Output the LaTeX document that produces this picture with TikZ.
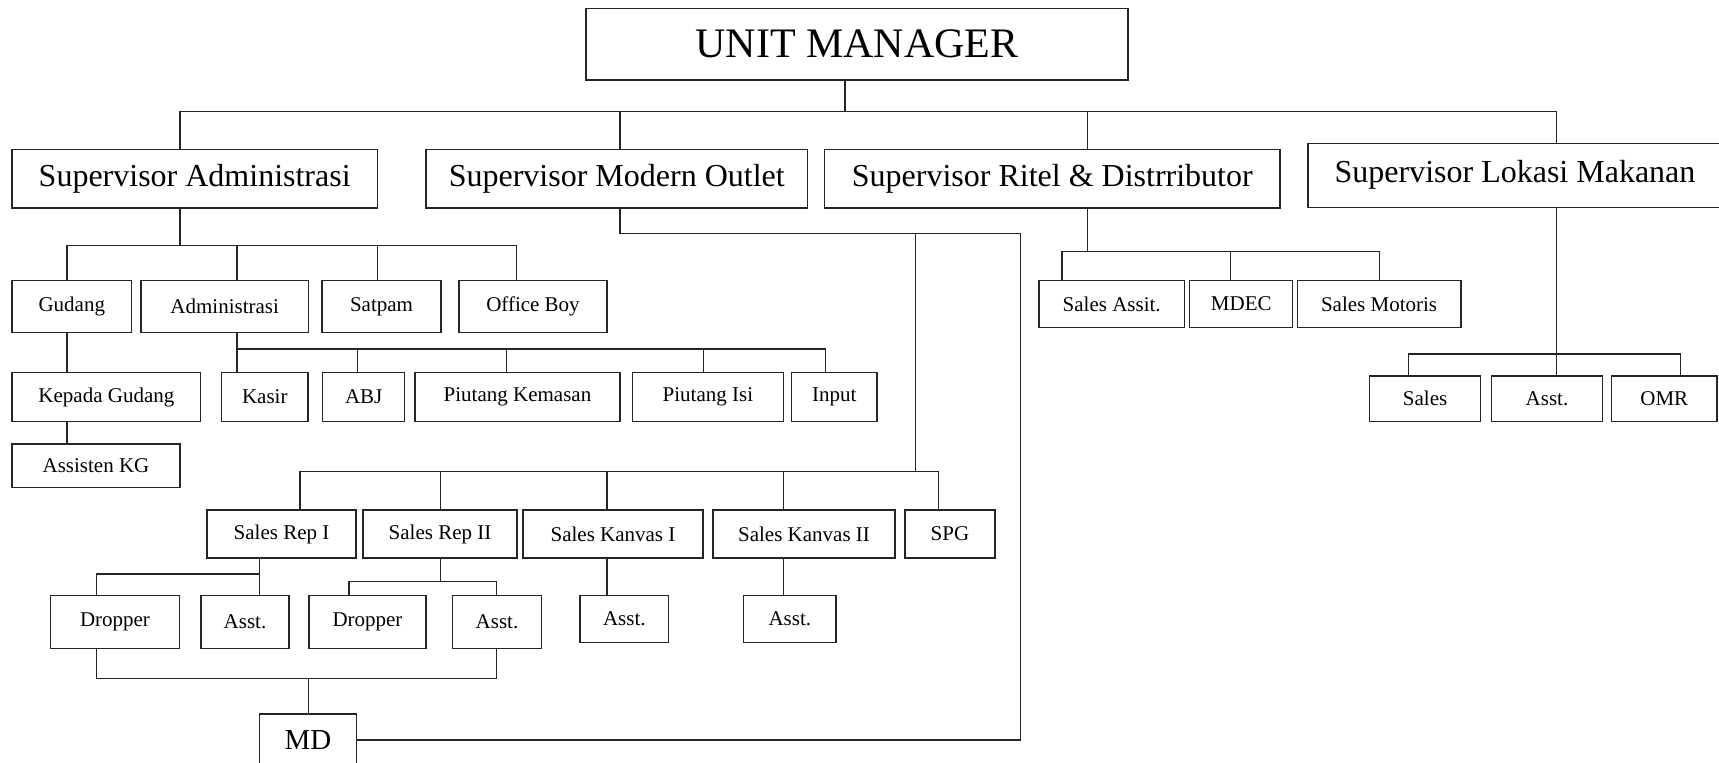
\documentclass[tikz,border=0pt]{standalone}
\usepackage{fontspec}
\setmainfont{Liberation Serif}
\usepackage{tikz}

\begin{document}
\begin{tikzpicture}[x=1pt, y=-1pt, line width=1.1pt, draw=black!85,
	box/.style = {draw, rectangle, inner sep=0pt, line width=1.2pt},
	big/.style = {font=\fontsize{42}{46}\selectfont},
	sup/.style = {font=\fontsize{32}{36}\selectfont},
	md/.style = {font=\fontsize{29}{32}\selectfont},
	sm/.style = {font=\fontsize{21}{24}\selectfont}]
	\useasboundingbox (0,0) rectangle (1719,763);
	
	\node[box, big, minimum width=542, minimum height=71.7] (um) at (857,44.2) {UNIT MANAGER};
	
	\node[box, sup, minimum width=365.4, minimum height=58.3] (sadm) at (194.7,178.8) {Supervisor Administrasi};
	\node[box, sup, minimum width=381.5, minimum height=58.3] (smo) at (616.8,178.8) {Supervisor Modern Outlet};
	\node[box, sup, minimum width=455.5, minimum height=58.3] (srd) at (1052.3,178.8) {Supervisor Ritel \& Distrributor};
	\node[box, sup, minimum width=414, minimum height=64] (slm) at (1515,175.3) {Supervisor Lokasi Makanan};
	
	\node[box, sm, minimum width=119.6, minimum height=52] (gud) at (71.8,306.7) {Gudang};
	\node[box, sm, minimum width=167.3, minimum height=52] (adm) at (224.7,306.7) {Administrasi};
	\node[box, sm, minimum width=119, minimum height=52] (sat) at (381.5,306.7) {Satpam};
	\node[box, sm, minimum width=148, minimum height=52] (ob) at (533,306.7) {Office Boy};
	
	\node[box, sm, minimum width=188.8, minimum height=49.4] (kg) at (106.4,397) {Kepada Gudang};
	\node[box, sm, minimum width=168, minimum height=43.3] (akg) at (96,465.7) {Assisten KG};
	\node[box, sm, minimum width=86.4, minimum height=49.4] (kas) at (264.8,397) {Kasir};
	\node[box, sm, minimum width=82.3, minimum height=49.4] (abj) at (363.7,397) {ABJ};
	\node[box, sm, minimum width=205, minimum height=49.4] (pk) at (517.5,397) {Piutang Kemasan};
	\node[box, sm, minimum width=150.8, minimum height=49.4] (pi) at (707.9,397) {Piutang Isi};
	\node[box, sm, minimum width=85.5, minimum height=49.4] (inp) at (834.3,397) {Input};
	
	\node[box, sm, minimum width=145.3, minimum height=46.6] (sass) at (1111.7,304) {Sales Assit.};
	\node[box, sm, minimum width=103, minimum height=46.6] (mdec) at (1241.3,304) {MDEC};
	\node[box, sm, minimum width=163.8, minimum height=46.6] (smot) at (1379.1,304) {Sales Motoris};
	
	\node[box, sm, minimum width=111.2, minimum height=45.5] (lsal) at (1425.1,398.7) {Sales};
	\node[box, sm, minimum width=110.7, minimum height=45.5] (lass) at (1547,398.7) {Asst.};
	\node[box, sm, minimum width=105.4, minimum height=45.5] (omr) at (1664.3,398.7) {OMR};
	
	\node[box, sm, minimum width=149, minimum height=48] (sr1) at (281.5,534) {Sales Rep I};
	\node[box, sm, minimum width=154, minimum height=48] (sr2) at (440,534) {Sales Rep II};
	\node[box, sm, minimum width=180, minimum height=48] (sk1) at (613,534) {Sales Kanvas I};
	\node[box, sm, minimum width=182, minimum height=48] (sk2) at (804,534) {Sales Kanvas II};
	\node[box, sm, minimum width=90, minimum height=48] (spg) at (950,534) {SPG};
	
	\node[box, sm, minimum width=129.1, minimum height=52.6] (dr1) at (115,622) {Dropper};
	\node[box, sm, minimum width=88, minimum height=52.6] (as1) at (245,622) {Asst.};
	\node[box, sm, minimum width=117, minimum height=52.6] (dr2) at (367.5,622) {Dropper};
	\node[box, sm, minimum width=89.1, minimum height=52.6] (as2) at (497,622) {Asst.};
	\node[box, sm, minimum width=88.5, minimum height=47] (as3) at (624.3,619.2) {Asst.};
	\node[box, sm, minimum width=92.4, minimum height=47] (as4) at (789.8,619.2) {Asst.};
	
	\node[box, md, minimum width=96.8, minimum height=52] (md) at (308,740) {MD};
	
	% top level
	\coordinate (jum) at (845,111.7);
	\coordinate (jsa) at (180,111.7);
	\coordinate (jmo) at (620,111.7);
	\coordinate (jrd) at (1087.5,111.7);
	\coordinate (jlm) at (1556.6,111.7);
	\draw (jum |- um.south) -- (jum);
	\draw (jsa |- sadm.north) -- (jsa) -- (jlm) -- (jlm |- slm.north);
	\draw (jmo) -- (jmo |- smo.north);
	\draw (jrd) -- (jrd |- srd.north);
	
	% administrasi
	\coordinate (ja) at (180,245.7);
	\coordinate (jgu) at (67,245.7);
	\coordinate (jad) at (237,245.7);
	\coordinate (jsp) at (377.4,245.7);
	\coordinate (job) at (516.7,245.7);
	\draw (ja |- sadm.south) -- (ja);
	\draw (jgu |- gud.north) -- (jgu) -- (job) -- (job |- ob.north);
	\draw (jad) -- (jad |- adm.north);
	\draw (jsp) -- (jsp |- sat.north);
	\draw (jgu |- gud.south) -- (jgu |- kg.north);
	\draw (jgu |- kg.south) -- (jgu |- akg.north);
	
	\coordinate (jka) at (237,349);
	\coordinate (jab) at (357.7,349);
	\coordinate (jpk) at (506.9,349);
	\coordinate (jpi) at (703.8,349);
	\coordinate (jin) at (825.6,349);
	\draw (jka |- adm.south) -- (jka |- kas.north);
	\draw (jka) -- (jin) -- (jin |- inp.north);
	\draw (jab) -- (jab |- abj.north);
	\draw (jpk) -- (jpk |- pk.north);
	\draw (jpi) -- (jpi |- pi.north);
	
	% modern outlet
	\coordinate (mo1) at (620,233.3);
	\coordinate (mo2) at (1020.7,233.3);
	\coordinate (mo3) at (915.5,233.3);
	\draw (jmo |- smo.south) -- (mo1) -- (mo2) -- (md.east -| mo2) -- (md.east);
	
	\coordinate (js1) at (300,471.7);
	\coordinate (js2) at (440.5,471.7);
	\coordinate (js3) at (607,471.7);
	\coordinate (js4) at (783.6,471.7);
	\coordinate (js5) at (938.6,471.7);
	\draw (mo3) -- (mo3 |- js1);
	\draw (js1 |- sr1.north) -- (js1) -- (js5) -- (js5 |- spg.north);
	\draw (js2) -- (js2 |- sr2.north);
	\draw (js3) -- (js3 |- sk1.north);
	\draw (js4) -- (js4 |- sk2.north);
	
	\coordinate (ra) at (259.6,574);
	\coordinate (rb) at (96.8,574);
	\draw (ra |- sr1.south) -- (ra |- as1.north);
	\draw (ra) -- (rb) -- (rb |- dr1.north);
	\coordinate (rc) at (440.5,581.7);
	\coordinate (rd) at (349,581.7);
	\coordinate (re) at (496.7,581.7);
	\draw (rc |- sr2.south) -- (rc);
	\draw (rd |- dr2.north) -- (rd) -- (re) -- (re |- as2.north);
	\draw (js3 |- sk1.south) -- (js3 |- as3.north);
	\draw (js4 |- sk2.south) -- (js4 |- as4.north);
	
	\coordinate (mb1) at (96.8,678.3);
	\coordinate (mb2) at (496.7,678.3);
	\coordinate (mb3) at (308.7,678.3);
	\draw (mb1 |- dr1.south) -- (mb1) -- (mb2) -- (mb2 |- as2.south);
	\draw (mb3) -- (mb3 |- md.north);
	
	% ritel & distributor
	\coordinate (jr) at (1087.5,251.7);
	\coordinate (jr1) at (1062,251.7);
	\coordinate (jr2) at (1230.3,251.7);
	\coordinate (jr3) at (1379.3,251.7);
	\draw (jr |- srd.south) -- (jr);
	\draw (jr1 |- sass.north) -- (jr1) -- (jr3) -- (jr3 |- smot.north);
	\draw (jr2) -- (jr2 |- mdec.north);
	
	% lokasi makanan
	\coordinate (jl) at (1556.6,354);
	\coordinate (jl1) at (1408.4,354);
	\coordinate (jl3) at (1680.1,354);
	\draw (jl |- slm.south) -- (jl |- lass.north);
	\draw (jl1 |- lsal.north) -- (jl1) -- (jl3) -- (jl3 |- omr.north);
\end{tikzpicture}
\end{document}
